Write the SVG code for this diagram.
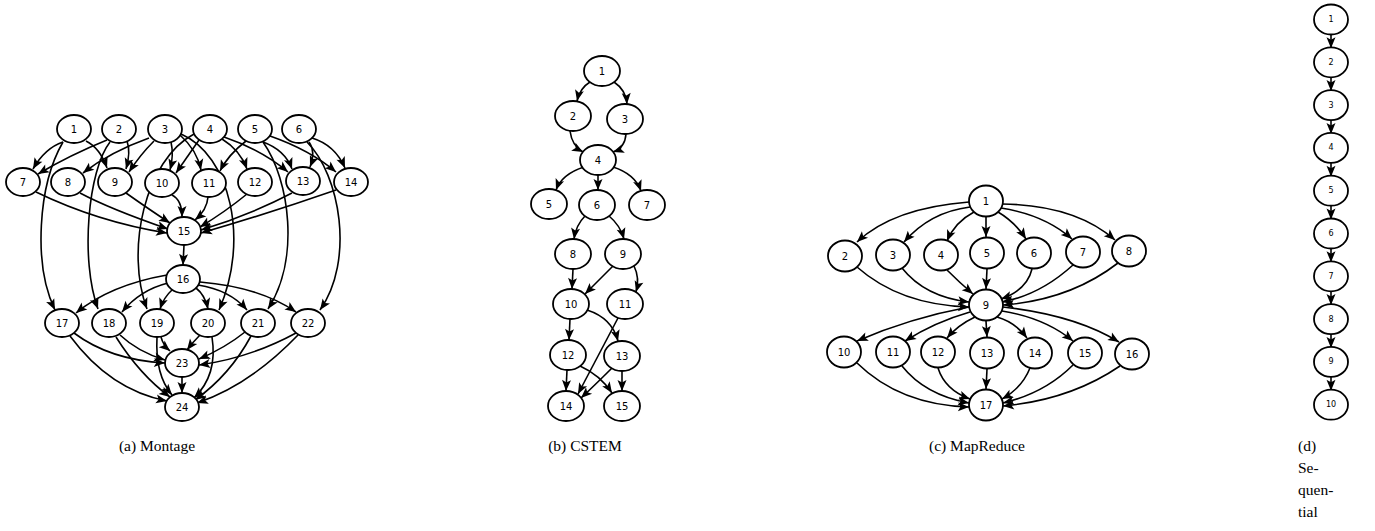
<svg xmlns="http://www.w3.org/2000/svg" width="1375" height="531" viewBox="0 0 1375 531">
<style>
.node ellipse{fill:#fff;stroke:#000;stroke-width:1.8}
.node text{font-family:"DejaVu Sans",sans-serif;font-size:10px;text-anchor:middle;dominant-baseline:central;fill:#000}
.seq text{font-size:8px}
#edges path{fill:none;stroke:#000;stroke-width:1.6;marker-end:url(#ah)}
.cap{font-family:"Liberation Serif",serif;font-size:15.5px;fill:#000}
</style>
<defs>
<marker id="ah" markerUnits="userSpaceOnUse" markerWidth="12" markerHeight="10" refX="11" refY="4.5" orient="auto" overflow="visible">
<path d="M0,0 L11,4.5 L0,9 L2.5,4.5 z" fill="#000"/>
</marker>
</defs>
<rect width="1375" height="531" fill="#fff"/>
<g id="edges">
<!-- Montage -->
<path d="M63,142 Q45,148 33,169"/>
<path d="M86,141 Q100,148 107,168"/>
<path d="M63,142 C38,185 33,265 55,310"/>
<path d="M107,140 Q70,155 38,174"/>
<path d="M127,141 Q131,152 126,169"/>
<path d="M110,142 C88,170 80,260 98,309"/>
<path d="M149,138 Q110,152 83,173"/>
<path d="M154,141 Q140,155 129,172"/>
<path d="M171,142 Q174,155 170,170"/>
<path d="M180,135 Q197,150 201,170"/>
<path d="M181,134 C230,155 250,240 219,310"/>
<path d="M199,140 Q185,160 176,173"/>
<path d="M194,134 C145,160 125,250 147,309"/>
<path d="M222,139 Q240,150 247,169"/>
<path d="M224,137 Q262,150 288,172"/>
<path d="M246,141 Q228,155 220,171"/>
<path d="M263,142 Q285,150 292,169"/>
<path d="M270,136 Q310,150 336,172"/>
<path d="M263,142 C290,180 300,260 268,309"/>
<path d="M309,142 Q316,152 310,167"/>
<path d="M312,138 Q335,145 345,168"/>
<path d="M307,142 C340,175 355,260 320,310"/>
<path d="M36,192 Q98,222 167,233"/>
<path d="M80,193 Q110,209 168,229"/>
<path d="M126,193 Q150,210 170,223"/>
<path d="M172,195 Q182,200 182,217"/>
<path d="M208,197 Q207,210 195,220"/>
<path d="M247,194 Q225,212 200,227"/>
<path d="M292,193 Q250,215 201,230"/>
<path d="M336,190 Q270,213 201,233"/>
<path d="M184,245 L183,265"/>
<path d="M167,275 Q110,285 76,313"/>
<path d="M168,283 Q140,290 122,312"/>
<path d="M172,290 Q164,297 160,309"/>
<path d="M196,288 Q205,295 208,309"/>
<path d="M198,285 Q230,290 247,310"/>
<path d="M200,282 Q260,287 296,312"/>
<path d="M74,333 Q110,360 165,363"/>
<path d="M70,336 Q110,390 167,401"/>
<path d="M120,335 Q138,352 165,360"/>
<path d="M116,337 Q140,375 170,397"/>
<path d="M161,337 Q163,345 170,351"/>
<path d="M157,337 Q155,375 172,395"/>
<path d="M200,335 Q193,342 187,350"/>
<path d="M212,337 Q218,375 194,398"/>
<path d="M245,332 Q225,348 199,359"/>
<path d="M251,336 Q230,375 195,400"/>
<path d="M296,333 Q250,358 199,365"/>
<path d="M298,335 Q250,385 197,403"/>
<path d="M182,377 L182,393"/>
<!-- CSTEM -->
<path d="M590,82 Q580,88 577,101"/>
<path d="M614,82 Q626,90 627,104"/>
<path d="M570,131 Q572,146 583,152"/>
<path d="M626,134 Q625,148 613,152"/>
<path d="M584,167 Q562,174 556,190"/>
<path d="M598,175 L598,190"/>
<path d="M613,167 Q635,174 641,191"/>
<path d="M585,216 Q576,225 574,239"/>
<path d="M609,216 Q620,225 624,239"/>
<path d="M573,269 L572,289"/>
<path d="M613,266 L585,294"/>
<path d="M634,266 Q640,278 636,292"/>
<path d="M570,319 L569,340"/>
<path d="M587,310 Q612,318 618,341"/>
<path d="M618,318 L578,394"/>
<path d="M567,370 L566,391"/>
<path d="M580,366 Q600,375 612,393"/>
<path d="M612,368 Q595,385 581,398"/>
<path d="M622,371 L622,391"/>
<!-- MapReduce -->
<path d="M969,202 Q893,208 857,242"/>
<path d="M970,207 Q930,212 904,242"/>
<path d="M974,212 Q955,222 947,241"/>
<path d="M986,216 L986,237"/>
<path d="M998,212 Q1015,222 1026,239"/>
<path d="M1001,208 Q1045,215 1072,239"/>
<path d="M1002,204 Q1075,205 1115,240"/>
<path d="M857,267 Q900,305 969,307"/>
<path d="M902,268 Q925,297 969,302"/>
<path d="M947,270 Q960,283 973,294"/>
<path d="M987,269 L986,289"/>
<path d="M1032,269 Q1027,290 1001,299"/>
<path d="M1073,265 Q1040,295 1002,302"/>
<path d="M1118,263 Q1070,300 1003,305"/>
<path d="M969,307 Q910,318 857,341"/>
<path d="M970,312 Q935,322 905,341"/>
<path d="M975,317 Q958,325 947,338"/>
<path d="M986,321 L987,337"/>
<path d="M997,317 Q1015,322 1027,338"/>
<path d="M1002,311 Q1045,318 1073,341"/>
<path d="M1003,307 Q1075,315 1119,342"/>
<path d="M857,363 Q900,405 969,407"/>
<path d="M902,366 Q925,395 969,403"/>
<path d="M938,368 Q945,390 970,399"/>
<path d="M987,369 L986,389"/>
<path d="M1030,368 Q1022,388 1002,399"/>
<path d="M1073,365 Q1045,393 1003,403"/>
<path d="M1120,366 Q1070,400 1003,406"/>
<!-- Sequential -->
<path d="M1331,34.5 L1331,48.3"/>
<path d="M1331,77.3 L1331,91.1"/>
<path d="M1331,120.1 L1331,133.9"/>
<path d="M1331,162.9 L1331,176.7"/>
<path d="M1331,205.7 L1331,219.5"/>
<path d="M1331,248.5 L1331,262.3"/>
<path d="M1331,291.3 L1331,305.1"/>
<path d="M1331,334.1 L1331,347.9"/>
<path d="M1331,376.9 L1331,390.7"/>
</g>
<!-- Montage nodes -->
<g id="m1" class="node"><ellipse cx="74" cy="129" rx="17" ry="14"/><text x="74" y="129">1</text></g>
<g id="m2" class="node"><ellipse cx="119" cy="129" rx="17" ry="14"/><text x="119" y="129">2</text></g>
<g id="m3" class="node"><ellipse cx="165" cy="129" rx="17" ry="14"/><text x="165" y="129">3</text></g>
<g id="m4" class="node"><ellipse cx="210" cy="129" rx="17" ry="14"/><text x="210" y="129">4</text></g>
<g id="m5" class="node"><ellipse cx="255" cy="129" rx="17" ry="14"/><text x="255" y="129">5</text></g>
<g id="m6" class="node"><ellipse cx="299" cy="129" rx="17" ry="14"/><text x="299" y="129">6</text></g>
<g id="m7" class="node"><ellipse cx="23" cy="182" rx="17" ry="14"/><text x="23" y="182">7</text></g>
<g id="m8" class="node"><ellipse cx="68" cy="182" rx="17" ry="14"/><text x="68" y="182">8</text></g>
<g id="m9" class="node"><ellipse cx="115" cy="182" rx="17" ry="14"/><text x="115" y="182">9</text></g>
<g id="m10" class="node"><ellipse cx="162" cy="183" rx="17" ry="14"/><text x="162" y="183">10</text></g>
<g id="m11" class="node"><ellipse cx="209" cy="183" rx="17" ry="14"/><text x="209" y="183">11</text></g>
<g id="m12" class="node"><ellipse cx="255" cy="182" rx="17" ry="14"/><text x="255" y="182">12</text></g>
<g id="m13" class="node"><ellipse cx="303" cy="181" rx="17" ry="14"/><text x="303" y="181">13</text></g>
<g id="m14" class="node"><ellipse cx="351" cy="182" rx="17" ry="14"/><text x="351" y="182">14</text></g>
<g id="m15" class="node"><ellipse cx="184" cy="231" rx="17" ry="14"/><text x="184" y="231">15</text></g>
<g id="m16" class="node"><ellipse cx="183" cy="279" rx="17" ry="14"/><text x="183" y="279">16</text></g>
<g id="m17" class="node"><ellipse cx="62" cy="323" rx="17" ry="14"/><text x="62" y="323">17</text></g>
<g id="m18" class="node"><ellipse cx="109" cy="323" rx="17" ry="14"/><text x="109" y="323">18</text></g>
<g id="m19" class="node"><ellipse cx="157" cy="323" rx="17" ry="14"/><text x="157" y="323">19</text></g>
<g id="m20" class="node"><ellipse cx="208" cy="323" rx="17" ry="14"/><text x="208" y="323">20</text></g>
<g id="m21" class="node"><ellipse cx="258" cy="323" rx="17" ry="14"/><text x="258" y="323">21</text></g>
<g id="m22" class="node"><ellipse cx="308" cy="323" rx="17" ry="14"/><text x="308" y="323">22</text></g>
<g id="m23" class="node"><ellipse cx="182" cy="363" rx="17" ry="14"/><text x="182" y="363">23</text></g>
<g id="m24" class="node"><ellipse cx="182" cy="407" rx="17" ry="14"/><text x="182" y="407">24</text></g>
<!-- CSTEM nodes -->
<g id="c1" class="node"><ellipse cx="602" cy="71" rx="18" ry="15"/><text x="602" y="71">1</text></g>
<g id="c2" class="node"><ellipse cx="573" cy="116" rx="18" ry="15"/><text x="573" y="116">2</text></g>
<g id="c3" class="node"><ellipse cx="625" cy="119" rx="18" ry="15"/><text x="625" y="119">3</text></g>
<g id="c4" class="node"><ellipse cx="598" cy="160" rx="18" ry="15"/><text x="598" y="160">4</text></g>
<g id="c5" class="node"><ellipse cx="549" cy="204" rx="18" ry="15"/><text x="549" y="204">5</text></g>
<g id="c6" class="node"><ellipse cx="597" cy="205" rx="18" ry="15"/><text x="597" y="205">6</text></g>
<g id="c7" class="node"><ellipse cx="647" cy="205" rx="18" ry="15"/><text x="647" y="205">7</text></g>
<g id="c8" class="node"><ellipse cx="573" cy="254" rx="18" ry="15"/><text x="573" y="254">8</text></g>
<g id="c9" class="node"><ellipse cx="623" cy="254" rx="18" ry="15"/><text x="623" y="254">9</text></g>
<g id="c10" class="node"><ellipse cx="571" cy="304" rx="18" ry="15"/><text x="571" y="304">10</text></g>
<g id="c11" class="node"><ellipse cx="625" cy="304" rx="18" ry="15"/><text x="625" y="304">11</text></g>
<g id="c12" class="node"><ellipse cx="568" cy="355" rx="18" ry="15"/><text x="568" y="355">12</text></g>
<g id="c13" class="node"><ellipse cx="622" cy="356" rx="18" ry="15"/><text x="622" y="356">13</text></g>
<g id="c14" class="node"><ellipse cx="566" cy="406" rx="18" ry="15"/><text x="566" y="406">14</text></g>
<g id="c15" class="node"><ellipse cx="622" cy="406" rx="18" ry="15"/><text x="622" y="406">15</text></g>
<!-- MapReduce nodes -->
<g id="r1" class="node"><ellipse cx="986" cy="201" rx="17" ry="15.5"/><text x="986" y="201">1</text></g>
<g id="r2" class="node"><ellipse cx="845" cy="256" rx="17" ry="15.5"/><text x="845" y="256">2</text></g>
<g id="r3" class="node"><ellipse cx="893" cy="255" rx="17" ry="15.5"/><text x="893" y="255">3</text></g>
<g id="r4" class="node"><ellipse cx="941" cy="255" rx="17" ry="15.5"/><text x="941" y="255">4</text></g>
<g id="r5" class="node"><ellipse cx="987" cy="253" rx="17" ry="15.5"/><text x="987" y="253">5</text></g>
<g id="r6" class="node"><ellipse cx="1034" cy="253" rx="17" ry="15.5"/><text x="1034" y="253">6</text></g>
<g id="r7" class="node"><ellipse cx="1083" cy="252" rx="17" ry="15.5"/><text x="1083" y="252">7</text></g>
<g id="r8" class="node"><ellipse cx="1129" cy="251" rx="17" ry="15.5"/><text x="1129" y="251">8</text></g>
<g id="r9" class="node"><ellipse cx="986" cy="305" rx="17" ry="15.5"/><text x="986" y="305">9</text></g>
<g id="r10" class="node"><ellipse cx="844" cy="352" rx="17" ry="15.5"/><text x="844" y="352">10</text></g>
<g id="r11" class="node"><ellipse cx="893" cy="352" rx="17" ry="15.5"/><text x="893" y="352">11</text></g>
<g id="r12" class="node"><ellipse cx="938" cy="352" rx="17" ry="15.5"/><text x="938" y="352">12</text></g>
<g id="r13" class="node"><ellipse cx="987" cy="353" rx="17" ry="15.5"/><text x="987" y="353">13</text></g>
<g id="r14" class="node"><ellipse cx="1035" cy="353" rx="17" ry="15.5"/><text x="1035" y="353">14</text></g>
<g id="r15" class="node"><ellipse cx="1085" cy="353" rx="17" ry="15.5"/><text x="1085" y="353">15</text></g>
<g id="r16" class="node"><ellipse cx="1132" cy="354" rx="17" ry="15.5"/><text x="1132" y="354">16</text></g>
<g id="r17" class="node"><ellipse cx="986" cy="405" rx="17" ry="15.5"/><text x="986" y="405">17</text></g>
<!-- Sequential nodes -->
<g id="s1" class="node seq"><ellipse cx="1331" cy="19.5" rx="17" ry="15"/><text x="1331" y="19.5">1</text></g>
<g id="s2" class="node seq"><ellipse cx="1331" cy="62.3" rx="17" ry="15"/><text x="1331" y="62.3">2</text></g>
<g id="s3" class="node seq"><ellipse cx="1331" cy="105.1" rx="17" ry="15"/><text x="1331" y="105.1">3</text></g>
<g id="s4" class="node seq"><ellipse cx="1331" cy="147.9" rx="17" ry="15"/><text x="1331" y="147.9">4</text></g>
<g id="s5" class="node seq"><ellipse cx="1331" cy="190.7" rx="17" ry="15"/><text x="1331" y="190.7">5</text></g>
<g id="s6" class="node seq"><ellipse cx="1331" cy="233.5" rx="17" ry="15"/><text x="1331" y="233.5">6</text></g>
<g id="s7" class="node seq"><ellipse cx="1331" cy="276.3" rx="17" ry="15"/><text x="1331" y="276.3">7</text></g>
<g id="s8" class="node seq"><ellipse cx="1331" cy="319.1" rx="17" ry="15"/><text x="1331" y="319.1">8</text></g>
<g id="s9" class="node seq"><ellipse cx="1331" cy="361.9" rx="17" ry="15"/><text x="1331" y="361.9">9</text></g>
<g id="s10" class="node seq"><ellipse cx="1331" cy="404.7" rx="17" ry="15"/><text x="1331" y="404.7">10</text></g>
<!-- Captions -->
<text class="cap" x="157" y="451" text-anchor="middle">(a)  Montage</text>
<text class="cap" x="585" y="451" text-anchor="middle">(b)  CSTEM</text>
<text class="cap" x="977" y="451" text-anchor="middle">(c)  MapReduce</text>
<text class="cap" x="1298" y="451">(d)</text>
<text class="cap" x="1298" y="473">Se-</text>
<text class="cap" x="1298" y="495">quen-</text>
<text class="cap" x="1298" y="517">tial</text>
</svg>
